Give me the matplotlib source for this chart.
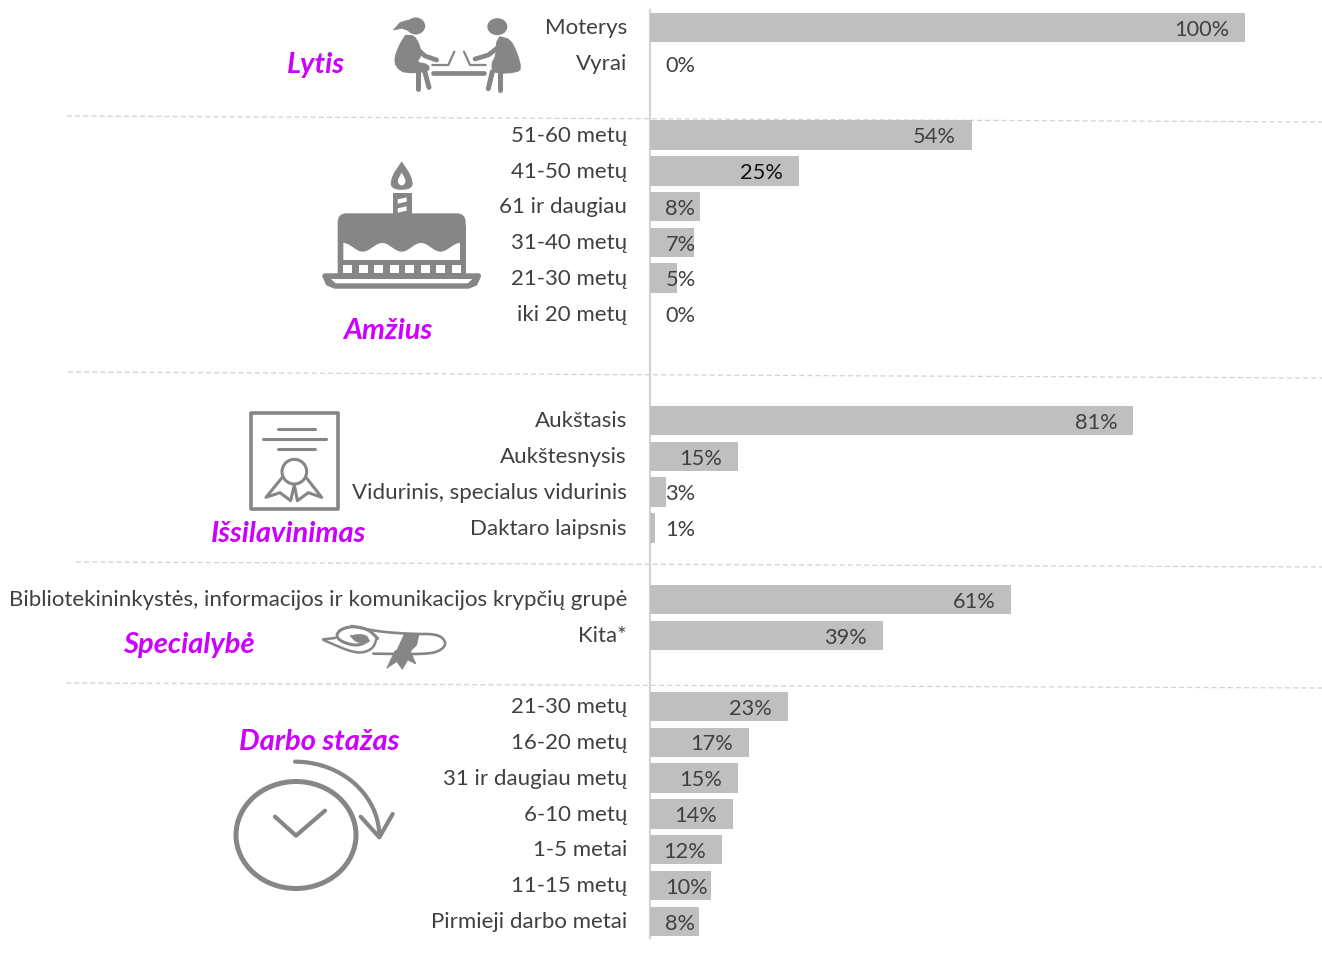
import numpy as np
import matplotlib
matplotlib.use("Agg")
import matplotlib.pyplot as plt
from matplotlib.patches import Circle, Rectangle, FancyBboxPatch, Polygon, Ellipse

plt.rcParams['font.family'] = ['Lato', 'DejaVu Sans']

lytis_labels = ["Moterys", "Vyrai"]
lytis_values = [100.0, 0.0]
lytis_text = ["100%", "0%"]
amzius_labels = ["51-60 metų", "41-50 metų", "61 ir daugiau", "31-40 metų", "21-30 metų", "iki 20 metų"]
amzius_values = [54.1, 25.1, 8.4, 7.4, 4.6, 0.0]
amzius_text = ["54%", "25%", "8%", "7%", "5%", "0%"]
issil_labels = ["Aukštasis", "Aukštesnysis", "Vidurinis, specialus vidurinis", "Daktaro laipsnis"]
issil_values = [81.2, 14.8, 2.7, 0.9]
issil_text = ["81%", "15%", "3%", "1%"]
spec_labels = ["Bibliotekininkystės, informacijos ir komunikacijos krypčių grupė", "Kita*"]
spec_values = [60.7, 39.2]
spec_text = ["61%", "39%"]
stazas_labels = ["21-30 metų", "16-20 metų", "31 ir daugiau metų", "6-10 metų", "1-5 metai", "11-15 metų", "Pirmieji darbo metai"]
stazas_values = [23.2, 16.6, 14.8, 13.9, 12.1, 10.2, 8.3]
stazas_text = ["23%", "17%", "15%", "14%", "12%", "10%", "8%"]

groups = [
    (lytis_labels, lytis_values, lytis_text),
    (amzius_labels, amzius_values, amzius_text),
    (issil_labels, issil_values, issil_text),
    (spec_labels, spec_values, spec_text),
    (stazas_labels, stazas_values, stazas_text),
]
group_first_row = [27.5, 135.0, 420.5, 599.5, 706.5]
ROW = 35.8
W, H = 1322, 958
GREY = "#868686"
BAR = "#bfbfbf"
TXT = "#404040"
PURPLE = "#cc00ff"
FS = 16.0
FS_PCT = 15.7

fig = plt.figure(figsize=(W / 100, H / 100), dpi=100, facecolor="white")
deco = fig.add_axes([0, 0, 1, 1])
deco.set_xlim(0, W)
deco.set_ylim(H, 0)
deco.axis("off")

ax = fig.add_axes([650 / W, 0, 595 / W, 1])
ax.set_xlim(0, 100)
ax.set_ylim(H, 0)
ax.axis("off")
ax.patch.set_alpha(0)

for (labels, values, texts), y0 in zip(groups, group_first_row):
    ys = y0 + ROW * np.arange(len(labels))
    ax.barh(ys, values, height=29.5, color=BAR, linewidth=0)
    for lab, v, t, y in zip(labels, values, texts, ys):
        ax.annotate(lab, xy=(0, y), xytext=(-23, -0.8), textcoords="offset pixels",
                    ha="right", va="center", fontsize=FS, color=TXT, annotation_clip=False)
        col = "#111111" if t == "25%" else TXT
        if v < 12:
            ax.annotate(t, xy=(0, y), xytext=(15.5, -2.2), textcoords="offset pixels",
                        ha="left", va="center", fontsize=FS_PCT, color=col)
        else:
            ax.annotate(t, xy=(v, y), xytext=(-16, -2.2), textcoords="offset pixels",
                        ha="right", va="center", fontsize=FS_PCT, color=col)

# axis and separators
deco.plot([650, 650], [10, 938], color="#d4d4d4", lw=1.6, zorder=5)
for x0, y0, y1 in [(67, 116, 122), (68, 372, 378), (76, 562, 567), (66, 683, 688)]:
    deco.plot([x0, W], [y0, y1], color="#d2d2d2", lw=0.9, ls=(0, (4, 2.5)))

# group titles
for s, x, y in [("Lytis", 315.5, 65), ("Amžius", 388, 331), ("Išsilavinimas", 289, 534),
                ("Specialybė", 188.5, 645), ("Darbo stažas", 319, 742)]:
    deco.text(x, y, s, color=PURPLE, fontsize=21.0, fontweight="bold", style="italic",
              ha="center", va="center")


def zmap(ox, oy):
    return lambda x, y: (ox + x / 3, oy + y / 3)


def smooth(pts, n=3):
    a = np.array(pts, dtype=float)
    for _ in range(n):
        q = 0.75 * a[:-1] + 0.25 * a[1:]
        r = 0.25 * a[:-1] + 0.75 * a[1:]
        m = np.empty((2 * len(q), 2))
        m[0::2], m[1::2] = q, r
        a = np.vstack([a[0], m, a[-1]])
    return a


def stroke(pts, lw, color=GREY, z=3):
    a = np.array(pts)
    deco.plot(a[:, 0], a[:, 1], color=color, lw=lw, solid_capstyle="round",
              solid_joinstyle="round", zorder=z)


def fill(pts, color=GREY, z=3, lw=0.5):
    deco.add_patch(Polygon(pts, closed=True, fc=color, ec=color, lw=lw, zorder=z, joinstyle="round"))


# --- people icon
z = zmap(385, 10)
deco.add_patch(Ellipse(z(92, 48), 19, 17, color=GREY, lw=0))
fill([z(70, 30), z(45, 38), z(25, 60), z(50, 55), z(72, 62)])
fill(smooth([z(62, 78), z(85, 78), z(100, 100), z(108, 135), z(92, 158), z(130, 165), z(130, 183),
             z(60, 188), z(35, 170), z(30, 145), z(45, 105), z(62, 78)], 1), lw=1.5)
stroke([z(98, 118), z(120, 138), z(155, 150)], 3.4)
stroke([z(100, 185), z(100, 236)], 3.6)
stroke([z(118, 180), z(132, 232)], 3.6)
stroke([z(142, 165), z(190, 165), z(208, 125)], 1.6)
stroke([z(145, 190), z(298, 190)], 3.4)
deco.add_patch(Ellipse(z(337, 50), 20, 17, color=GREY, lw=0))
fill(smooth([z(345, 82), z(375, 90), z(395, 130), z(407, 175), z(395, 185), z(330, 190), z(320, 165),
             z(335, 135), z(335, 100), z(345, 82)], 1), lw=1.5)
stroke([z(340, 112), z(310, 135), z(270, 147)], 3.4)
stroke([z(322, 185), z(310, 236)], 3.6)
stroke([z(345, 185), z(345, 240)], 3.6)
stroke([z(302, 165), z(255, 165), z(237, 125)], 1.6)

# --- cake icon
z = zmap(315, 205)
bx, by = z(68, 25)
deco.add_patch(FancyBboxPatch((bx, by), 384 / 3, 70, boxstyle="round,pad=0,rounding_size=9",
                              fc=GREY, ec=GREY, lw=0, zorder=3))
deco.add_patch(Rectangle(z(68, 60), 384 / 3, 145 / 3, fc=GREY, lw=0, zorder=3))
wx = np.linspace(85, 435, 120)
wy = 127 - 13 * np.cos((wx - 85) / 350 * 2 * np.pi * 3)
fill([z(x, y) for x, y in zip(wx, wy)] + [z(435, 165), z(85, 165)], color="white", z=4, lw=0)
for i in range(8):
    deco.add_patch(Rectangle(z(85 + i * 46.5, 181), 9, 8, fc="white", lw=0, zorder=4))
fill([z(30, 213), z(490, 213), z(480, 235), z(460, 243), z(60, 243), z(40, 235)], z=4, lw=3.9)
fill([z(48, 222), z(472, 222), z(458, 235), z(62, 235)], color="white", z=5, lw=0)
z = zmap(220, 0)
deco.add_patch(Rectangle(z(518, 580), 57 / 3, 62 / 3, fc=GREY, lw=0, zorder=3))
fill([z(533, 598), z(560, 592), z(560, 605), z(533, 611)], color="white", z=4, lw=0)
fill([z(533, 625), z(560, 619), z(560, 632), z(533, 638)], color="white", z=4, lw=0)
fill(smooth([z(545, 486), z(575, 530), z(578, 568), z(512, 568), z(515, 530), z(545, 486)], 3))
fill(smooth([z(545, 518), z(560, 545), z(545, 560), z(530, 545), z(545, 518)], 2), color="white", z=4, lw=0)

# --- certificate icon
z = zmap(200, 400)
deco.add_patch(Rectangle(z(152, 38), 263 / 3, 288 / 3, fc="white", ec=GREY, lw=2.6, joinstyle="round"))
stroke([z(233, 88), z(345, 88)], 2.2)
stroke([z(190, 117), z(377, 117)], 2.2)
stroke([z(233, 147), z(345, 147)], 2.2)
deco.add_patch(Circle(z(283, 215), 37 / 3, fc="white", ec=GREY, lw=2.2, zorder=4))
stroke([z(247, 232), z(198, 292), z(240, 278), z(272, 302), z(283, 255)], 2.2)
stroke([z(318, 232), z(365, 292), z(325, 278), z(292, 302), z(283, 255)], 2.2)

# --- scroll icon
z = zmap(315, 620)
stroke(smooth([z(185, 55), z(175, 85), z(140, 100), z(100, 92), z(60, 75), z(25, 60), z(25, 58)], 3), 1.8)
stroke([z(25, 58), z(60, 54)], 1.8)
stroke(smooth([z(160, 62), z(130, 78), z(85, 68), z(62, 50), z(75, 28), z(115, 18), z(160, 28), z(188, 55)], 3), 2.2)
fill(smooth([z(105, 47), z(140, 42), z(162, 52), z(155, 68), z(125, 68), z(105, 47)], 1))
stroke(smooth([z(110, 18), z(190, 35), z(290, 42), z(370, 42), z(395, 68), z(380, 90), z(340, 103), z(175, 101)], 3), 1.9)
fill([z(268, 42), z(312, 44), z(305, 75), z(285, 95), z(245, 92)])
fill([z(240, 92), z(285, 92), z(303, 132), z(278, 120), z(262, 148), z(245, 125), z(215, 145)])

# --- clock icon
z = zmap(220, 720)
deco.add_patch(Ellipse(z(228, 345), 120, 107, fc="none", ec=GREY, lw=3.6))
stroke([z(165, 290), z(228, 347), z(315, 272)], 3.0)
ang = np.deg2rad(np.linspace(-90, 0, 50))
stroke([z(225 + 253 * np.cos(a), 350 + 225 * np.sin(a)) for a in ang], 3.0)
stroke([z(422, 290), z(478, 352), z(518, 282)], 3.0)

fig.savefig("out.png", dpi=100, facecolor="white")
